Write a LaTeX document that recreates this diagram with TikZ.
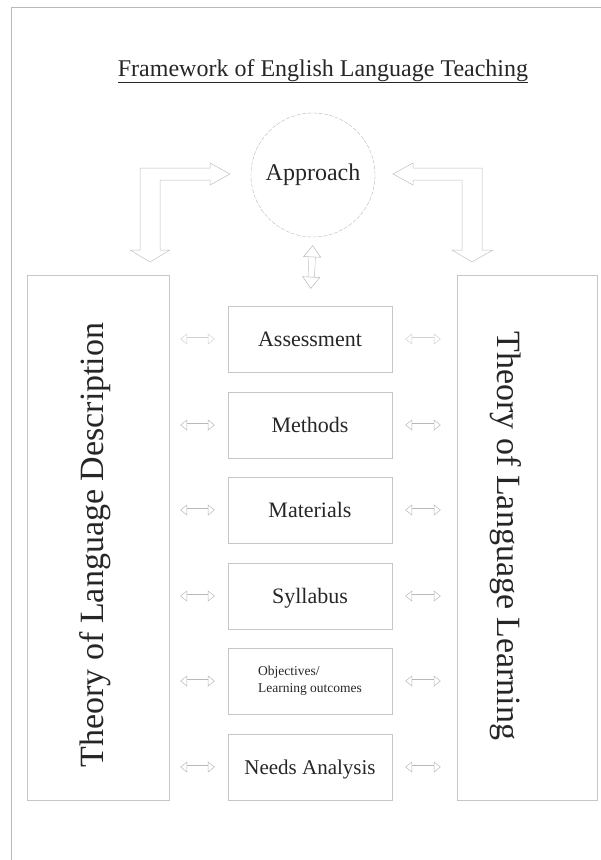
\documentclass[tikz,border=0pt]{standalone}
\usepackage{fontspec}
\setmainfont{Liberation Serif}
\usetikzlibrary{arrows.meta}

\tikzset{
  box/.style={draw=gray!45, minimum width=164pt, minimum height=66pt, inner sep=0pt,
    text height=15pt, text depth=0pt, font=\fontsize{22}{26}\selectfont, text=black!85},
  tall/.style={draw=gray!45, minimum height=525pt, inner sep=0pt},
  side/.style={font=\fontsize{34}{40}\selectfont, text=black!85},
  hollow/.style={draw=gray!55, line width=0.5pt, double=white, double distance=3pt,
    {Triangle[open,length=7pt,width=11pt]}-{Triangle[open,length=7pt,width=11pt]}},
  vhollow/.style={hollow, double distance=6pt,
    {Triangle[open,length=12pt,width=18pt]}-{Triangle[open,length=12pt,width=18pt]}},
  bent/.style={draw=gray!50, line width=0.5pt, line join=miter},
}

\begin{document}
\begin{tikzpicture}[x=1pt,y=-1pt]
\useasboundingbox (0,0) rectangle (601,860);
\draw[gray!55] (11,860) -- (11,7) -- (601,7);

% title and approach
\node[anchor=base, font=\fontsize{24}{28}\selectfont, text=black!85] (title) at (323,76)
  {\underline{Framework of English Language Teaching}};
\node[circle, draw=gray!55, dash pattern=on 4pt off 1.5pt, minimum size=124pt, inner sep=0pt,
  font=\fontsize{24}{28}\selectfont, text=black!85] (approach) at (313,175) {Approach};

% the two theories
\node[tall, minimum width=142pt] (lbox) at (98,537.5) {};
\node[tall, minimum width=140pt] (rbox) at (527,537.5) {};
\node[side, rotate=90] (ldesc) at (95,545) {Theory of Language Description};
\node[side, rotate=-90] (rlearn) at (506,536) {Theory of Language Learning};

% the six components
\node[box] (assess) at (310,339) {Assessment};
\node[box] (methods) at (310,425) {Methods};
\node[box] (materials) at (310,510) {Materials};
\node[box] (syllabus) at (310,596) {Syllabus};
\node[box, text height=, text depth=, font=\fontsize{13.5}{17}\selectfont, align=left] (objectives) at (310,681)
  {Objectives/\\Learning outcomes};
\node[box, font=\fontsize{21}{25}\selectfont] (needs) at (310,767) {Needs Analysis};

% approach to the boxes
\draw[vhollow, shorten <=8pt, shorten >=17pt] (approach.south) -- (assess.north);
\draw[bent] (230,174) -- (210,163) -- (210,168) -- (140,168) -- (140,250) -- (130,250)
  -- (150,262) -- (170,250) -- (160,250) -- (160,180) -- (210,180) -- (210,185) -- cycle;
\draw[bent] (393,174) -- (413,163) -- (413,168) -- (482,168) -- (482,250) -- (493,250)
  -- (472,262) -- (452,250) -- (462,250) -- (462,180) -- (413,180) -- (413,185) -- cycle;

% links to the theories
\draw[hollow, draw=gray!35, shorten <=11pt, shorten >=13pt] (assess.west -| lbox.east) -- (assess.west);
\draw[hollow, draw=gray!35, shorten <=13pt, shorten >=16pt] (assess.east) -- (assess.east -| rbox.west);
\draw[hollow, shorten <=11pt, shorten >=13pt] (methods.west -| lbox.east) -- (methods.west);
\draw[hollow, shorten <=13pt, shorten >=16pt] (methods.east) -- (methods.east -| rbox.west);
\draw[hollow, shorten <=11pt, shorten >=13pt] (materials.west -| lbox.east) -- (materials.west);
\draw[hollow, shorten <=13pt, shorten >=16pt] (materials.east) -- (materials.east -| rbox.west);
\draw[hollow, shorten <=11pt, shorten >=13pt] (syllabus.west -| lbox.east) -- (syllabus.west);
\draw[hollow, shorten <=13pt, shorten >=16pt] (syllabus.east) -- (syllabus.east -| rbox.west);
\draw[hollow, shorten <=11pt, shorten >=13pt] (objectives.west -| lbox.east) -- (objectives.west);
\draw[hollow, shorten <=13pt, shorten >=16pt] (objectives.east) -- (objectives.east -| rbox.west);
\draw[hollow, shorten <=11pt, shorten >=13pt] (needs.west -| lbox.east) -- (needs.west);
\draw[hollow, shorten <=13pt, shorten >=16pt] (needs.east) -- (needs.east -| rbox.west);
\end{tikzpicture}
\end{document}
